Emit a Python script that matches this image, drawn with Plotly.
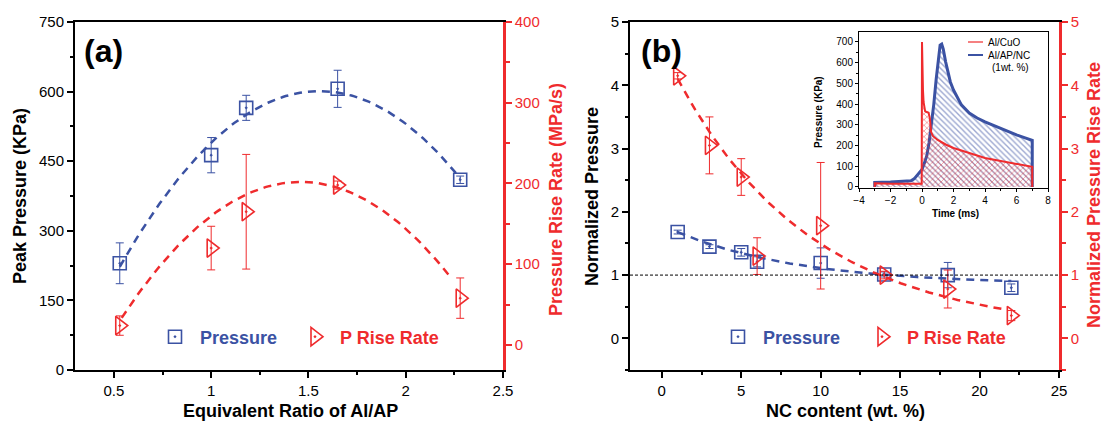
import numpy as np
import plotly.graph_objects as go

BLUE = '#3b52a3'
RED = '#ef2b2d'
FONT = 'Liberation Sans, Arial, sans-serif'
W, H = 1103, 427

# ---- (a) peak pressure / rise rate vs equivalent ratio of Al/AP ----
ratio = [0.53, 1.00, 1.18, 1.65, 2.28]
peak_pressure = [230, 463, 565, 606, 410]
peak_pressure_err = [44, 38, 27, 40, 8]
rise_rate = [24, 120, 165, 198, 58]
rise_rate_err = [12, 27, 71, 5, 25]

# quadratic fit of the rise rate, vertex form  y = top - k*(x - xc)^2
fit_rise_a = dict(top=202, xc=1.46, k=199, x0=0.54, x1=2.23)

# ---- (b) normalized values vs NC content ----
nc_content = [1, 3, 5, 6, 10, 14, 18, 22]
norm_pressure = [1.68, 1.45, 1.36, 1.21, 1.19, 1.01, 1.00, 0.80]
norm_pressure_err = [0.03, 0.03, 0.06, 0.08, 0.24, 0.04, 0.20, 0.06]
norm_rise = [4.15, 3.05, 2.55, 1.30, 1.78, 1.00, 0.78, 0.36]
norm_rise_err = [0.05, 0.45, 0.29, 0.29, 1.00, 0.06, 0.30, 0.08]

# exponential decay fits  y = y0 + A*exp(-(x - 1)/t)
fit_p = dict(y0=0.85, A=0.83, t=7.75, x_end=22)
fit_r = dict(y0=0.10, A=4.00, t=8.53, x_end=21.5)

# ---- inset: pressure traces ----
t_cuo = [-3, -3, -2, -1, -0.3, -0.02, 0.0, 0.03, 0.06, 0.1, 0.15, 0.2, 0.3, 0.42,
         0.5, 0.58, 0.7, 1.0, 1.5, 2.0, 2.5, 3.0, 3.5, 4.0, 4.5, 5.0, 5.5, 6.0, 6.5, 7.0, 7.0]
p_cuo = [0, 18, 15, 14, 12, 15, 700, 520, 470, 410, 375, 365, 362, 358,
         330, 265, 245, 227, 205, 188, 176, 164, 152, 140, 133, 126, 118, 111, 104, 97, 0]
t_nc = [-3, -3, -2, -1, -0.7, -0.5, -0.3, -0.1, 0.0, 0.15, 0.3, 0.45, 0.6, 0.75, 0.9,
        1.05, 1.15, 1.25, 1.35, 1.5, 1.65, 1.8, 2.0, 2.25, 2.5, 3.0, 3.5, 4.0, 4.5,
        5.0, 5.5, 6.0, 6.5, 7.0, 7.0]
p_nc = [0, 22, 24, 26, 30, 39, 55, 72, 84, 115, 150, 215, 300, 400, 520,
        640, 685, 690, 665, 604, 550, 507, 468, 430, 396, 357, 333, 314, 298,
        285, 268, 251, 238, 225, 0]


def px(x):
    return x / W


def py(y):
    return 1 - y / H


DASH = '8px,6px'
fig = go.Figure()

# fitted curves, panel (a)
xa = np.linspace(ratio[0], ratio[-1], 120)
cp = np.polyfit(ratio, peak_pressure, 2)
fig.add_trace(go.Scatter(x=xa, y=np.polyval(cp, xa), mode='lines', xaxis='x', yaxis='y',
                         line=dict(color=BLUE, width=2.5, dash=DASH), showlegend=False))
xr_a = np.linspace(fit_rise_a['x0'], fit_rise_a['x1'], 120)
fig.add_trace(go.Scatter(x=xr_a, y=fit_rise_a['top'] - fit_rise_a['k'] * (xr_a - fit_rise_a['xc']) ** 2,
                         mode='lines', xaxis='x', yaxis='y2',
                         line=dict(color=RED, width=2.5, dash=DASH), showlegend=False))

# fitted curves, panel (b)
xb = np.linspace(nc_content[0], fit_p['x_end'], 150)
fig.add_trace(go.Scatter(x=xb, y=fit_p['y0'] + fit_p['A'] * np.exp(-(xb - 1) / fit_p['t']),
                         mode='lines', xaxis='x3', yaxis='y3',
                         line=dict(color=BLUE, width=2.5, dash=DASH), showlegend=False))
xr = np.linspace(nc_content[0], fit_r['x_end'], 150)
fig.add_trace(go.Scatter(x=xr, y=fit_r['y0'] + fit_r['A'] * np.exp(-(xr - 1) / fit_r['t']),
                         mode='lines', xaxis='x3', yaxis='y4',
                         line=dict(color=RED, width=2.5, dash=DASH), showlegend=False))


def sq(x, y, e, xa_, ya_, leg):
    return go.Scatter(x=x, y=y, mode='markers', xaxis=xa_, yaxis=ya_,
                      marker=dict(symbol='square-open-dot', size=13, color=BLUE,
                                  line=dict(color=BLUE, width=1.6)),
                      error_y=dict(type='data', array=e, color=BLUE, thickness=1, width=4),
                      name="&nbsp;<b><span style='color:%s'>Pressure</span></b>" % BLUE,
                      legend=leg, showlegend=True)


def tri(x, y, e, xa_, ya_, leg):
    return go.Scatter(x=x, y=y, mode='markers', xaxis=xa_, yaxis=ya_,
                      marker=dict(symbol='triangle-right-open-dot', size=16, color=RED,
                                  line=dict(color=RED, width=1.6)),
                      error_y=dict(type='data', array=e, color=RED, thickness=1, width=4),
                      name="&nbsp;<b><span style='color:%s'>P Rise Rate</span></b>" % RED,
                      legend=leg, showlegend=True)


fig.add_trace(sq(ratio, peak_pressure, peak_pressure_err, 'x', 'y', 'legend'))
fig.add_trace(tri(ratio, rise_rate, rise_rate_err, 'x', 'y2', 'legend2'))
fig.add_trace(sq(nc_content, norm_pressure, norm_pressure_err, 'x3', 'y3', 'legend3'))
fig.add_trace(tri(nc_content, norm_rise, norm_rise_err, 'x3', 'y4', 'legend4'))

# inset traces with hatched fills
fig.add_trace(go.Scatter(x=t_nc, y=p_nc, mode='lines', xaxis='x5', yaxis='y5',
                         line=dict(color=BLUE, width=3), fill='tozeroy',
                         fillcolor='rgba(0,0,0,0)',
                         fillpattern=dict(shape='\\', fgcolor=BLUE, bgcolor='rgba(0,0,0,0)',
                                          size=4, solidity=0.35, fillmode='overlay'),
                         showlegend=False))
fig.add_trace(go.Scatter(x=t_cuo, y=p_cuo, mode='lines', xaxis='x5', yaxis='y5',
                         line=dict(color=RED, width=2), fill='tozeroy',
                         fillcolor='rgba(0,0,0,0)',
                         fillpattern=dict(shape='x', fgcolor=RED, bgcolor='rgba(0,0,0,0)',
                                          size=4, solidity=0.35, fillmode='overlay'),
                         showlegend=False))

tickfont = dict(family=FONT, size=15, color='black')
redtick = dict(family=FONT, size=15, color=RED)


def xax(dom, rng, dtick, minor, anchor):
    return dict(domain=dom, range=rng, dtick=dtick, tick0=0, anchor=anchor, showgrid=False,
                zeroline=False, showline=True, linecolor='black', linewidth=2, mirror=True,
                ticks='outside', ticklen=6, tickwidth=1.5, tickcolor='black', tickfont=tickfont,
                automargin=False,
                minor=dict(dtick=minor, ticks='outside', ticklen=3, tickwidth=1.5, tickcolor='black'))


def yleft(dom, rng, dtick, minor, anchor):
    return dict(domain=dom, range=rng, dtick=dtick, tick0=0, anchor=anchor, showgrid=False,
                zeroline=False, showline=True, linecolor='black', linewidth=2,
                ticks='outside', ticklen=6, tickwidth=1.5, tickcolor='black', tickfont=tickfont,
                automargin=False,
                minor=dict(dtick=minor, ticks='outside', ticklen=3, tickwidth=1.5, tickcolor='black'))


def yright(over, rng, dtick, minor, anchor):
    return dict(overlaying=over, side='right', range=rng, dtick=dtick, tick0=0, anchor=anchor,
                showgrid=False, zeroline=False, showline=True, linecolor=RED, linewidth=2.5,
                ticks='outside', ticklen=6, tickwidth=2, tickcolor=RED, tickfont=redtick,
                automargin=False,
                minor=dict(dtick=minor, ticks='outside', ticklen=4, tickwidth=2, tickcolor=RED))


ydom = [py(370), py(22)]
fig.update_layout(
    template='none',
    width=W, height=H, margin=dict(l=0, r=0, t=0, b=0, pad=0, autoexpand=False),
    paper_bgcolor='white', plot_bgcolor='white', font=dict(family=FONT),
    xaxis=xax([px(75), px(503)], [0.3, 2.5], 0.5, 0.25, 'y'),
    yaxis=yleft(ydom, [0, 750], 150, 75, 'x'),
    yaxis2=yright('y', [-31, 400], 100, 50, 'x'),
    xaxis3=xax([px(630), px(1059)], [-2, 25], 5, 2.5, 'y3'),
    yaxis3=yleft(ydom, [-0.5, 5], 1, 0.5, 'x3'),
    yaxis4=yright('y3', [-0.5, 5], 1, 0.5, 'x3'),
    xaxis5=dict(domain=[px(859), px(1048)], range=[-4, 8], dtick=2, tick0=0, anchor='y5',
                showgrid=False, zeroline=False, showline=True, linecolor='black', linewidth=1,
                mirror=True, ticks='outside', ticklen=3, tickcolor='black', automargin=False,
                tickfont=dict(family=FONT, size=10, color='black'),
                minor=dict(dtick=1, ticks='outside', ticklen=2, tickcolor='black')),
    yaxis5=dict(domain=[py(188), py(32)], range=[-5, 748], dtick=100, tick0=0, anchor='x5',
                showgrid=False, zeroline=False, showline=True, linecolor='black', linewidth=1,
                mirror=True, ticks='outside', ticklen=3, tickcolor='black', automargin=False,
                tickfont=dict(family=FONT, size=10, color='black'),
                minor=dict(dtick=50, ticks='outside', ticklen=2, tickcolor='black')),
)

legcommon = dict(xanchor='left', yanchor='middle', orientation='h', bgcolor='rgba(0,0,0,0)',
                 font=dict(family=FONT, size=18), itemsizing='trace', borderwidth=0)
fig.update_layout(
    legend=dict(x=px(155), y=py(337), **legcommon),
    legend2=dict(x=px(295), y=py(337), **legcommon),
    legend3=dict(x=px(718), y=py(337), **legcommon),
    legend4=dict(x=px(862), y=py(337), **legcommon),
)

# reference level at normalized value 1
fig.add_shape(type='line', xref='x3 domain', yref='y3', x0=0, x1=1, y0=1, y1=1,
              line=dict(color='black', width=1, dash='3px,2px'))

anns = []


def title(text, x, y, color='black', angle=0, size=18):
    anns.append(dict(text='<b>%s</b>' % text, x=px(x), y=py(y), xref='paper', yref='paper',
                     showarrow=False, textangle=angle, xanchor='center', yanchor='middle',
                     font=dict(family=FONT, size=size, color=color)))


title('Peak Pressure (KPa)', 20, 196, angle=-90)
title('Pressure Rise Rate (MPa/s)', 556, 200, color=RED, angle=-90)
title('Normalized Pressure', 592, 197, angle=-90)
title('Normalized Pressure Rise Rate', 1094, 195, color=RED, angle=-90)
title('Equivalent Ratio of Al/AP', 290, 411)
title('NC content (wt. %)', 845, 411)
title('(a)', 103, 51, size=32)
title('(b)', 661, 51, size=32)
title('Pressure (KPa)', 818, 112, angle=-90, size=10)
title('Time (ms)', 955, 213, size=10)

# inset key
for txt, x, y in [('Al/CuO', 986, 42), ('Al/AP/NC', 986, 55), ('(1wt. %)', 990, 68)]:
    anns.append(dict(text=txt, x=px(x), y=py(y), xref='paper', yref='paper', showarrow=False,
                     xanchor='left', yanchor='middle',
                     font=dict(family=FONT, size=10, color='black')))
fig.add_shape(type='line', xref='paper', yref='paper', x0=px(968), x1=px(983), y0=py(42),
              y1=py(42), line=dict(color=RED, width=1.2))
fig.add_shape(type='line', xref='paper', yref='paper', x0=px(968), x1=px(983), y0=py(55),
              y1=py(55), line=dict(color=BLUE, width=2))
fig.update_layout(annotations=anns)

fig.write_html('out.html')
